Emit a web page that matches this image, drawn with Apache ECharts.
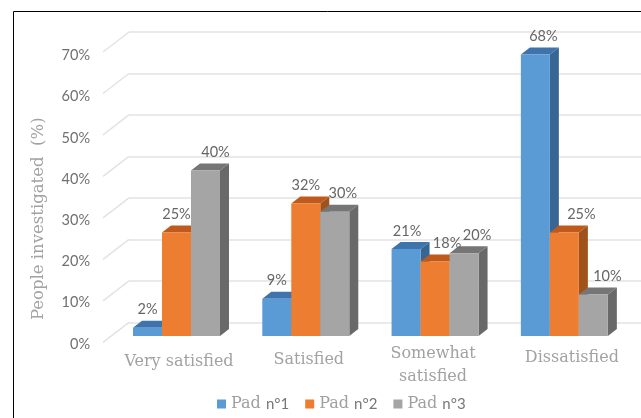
<!DOCTYPE html>
<html>
<head>
<meta charset="utf-8">
<title>Satisfaction by pad</title>
<style>html,body{margin:0;padding:0;background:#fff}#chart{width:641px;height:418px}</style>
<script src="https://cdn.jsdelivr.net/npm/echarts@6/dist/echarts.min.js"></script>
</head>
<body>
<div id="chart"></div>
<script>
// Survey answers, in percent of people asked
const categories = ['Very satisfied', 'Satisfied', 'Somewhat\nsatisfied', 'Dissatisfied'];
const pad1 = [2, 9, 21, 68];
const pad2 = [25, 32, 18, 25];
const pad3 = [40, 30, 20, 10];
const seriesNames = ['Pad n°1', 'Pad n°2', 'Pad n°3'];
const yTicks = [0, 10, 20, 30, 40, 50, 60, 70];

// Horizontal label shifts that keep neighbouring value labels apart
const labelShift1 = [0, 0, 1, 8];
const labelShift2 = [0, 0, 12, 17];
const labelShift3 = [10, 8, 13, 14];
// Offsets of the category captions under their bars
const captionShiftX = [2.5, 3, -2, 7.5];
const captionShiftY = [8, 6, 0, 4];

const palette = [
  { front: '#5B9BD5', top: '#3E74AB', side: '#376594' },
  { front: '#ED7D31', top: '#C05A1C', side: '#A0521B' },
  { front: '#A5A5A5', top: '#767676', side: '#696969' }
];
const depthX = 9, depthY = 7, barW = 29;
const gridColor = '#E3E3E3';
const serif = '"DejaVu Serif", "Liberation Serif", serif';
const sans = 'Lato, "Open Sans", sans-serif';

function barSeries(idx, values, shifts) {
  return {
    type: 'custom',
    name: seriesNames[idx],
    xAxisIndex: 2, yAxisIndex: 2,
    z: 5,
    itemStyle: { color: palette[idx].front },
    data: values.map((v, i) => [i, v]),
    encode: { x: 0, y: 1 },
    renderItem(params, api) {
      const cat = api.value(0), val = api.value(1);
      const topPt = api.coord([cat, val]);
      const base = api.coord([cat, 0]);
      const x = topPt[0] + (idx - 1.5) * barW;
      const c = palette[idx];
      const yT = topPt[1], yB = base[1];
      return {
        type: 'group',
        children: [
          { type: 'polygon', z2: idx * 3 + 1,
            shape: { points: [[x + barW, yT], [x + barW + depthX, yT - depthY], [x + barW + depthX, yB - depthY], [x + barW, yB]] },
            style: { fill: c.side } },
          { type: 'polygon', z2: idx * 3 + 2,
            shape: { points: [[x, yT], [x + depthX, yT - depthY], [x + barW + depthX, yT - depthY], [x + barW, yT]] },
            style: { fill: c.top } },
          { type: 'rect', z2: idx * 3 + 3,
            shape: { x: x, y: yT, width: barW, height: yB - yT },
            style: { fill: c.front } },
          { type: 'text', z2: 100,
            style: {
              x: x + barW / 2 + shifts[cat], y: yT - 18,
              text: val + '%', fill: '#666', font: '14.5px ' + sans,
              align: 'center', verticalAlign: 'middle'
            } }
        ]
      };
    }
  };
}

const chart = echarts.init(document.getElementById('chart'), null, { renderer: 'canvas' });
chart.setOption({
  animation: false,
  backgroundColor: '#fff',
  graphic: [{
    type: 'rect', silent: true, z: 0,
    shape: { x: 13.5, y: 11.5, width: 700, height: 500 },
    style: { fill: 'none', stroke: '#000', lineWidth: 1 }
  }],
  grid: [
    { left: 129, right: 0, top: 32, height: 290.3 },     // back wall
    { left: 103, width: 26, top: 55.5, height: 288.5 },  // carries the tick labels
    { left: 111.85, right: 12, top: 46.2, bottom: 82 }   // bar fronts
  ],
  xAxis: [
    { gridIndex: 0, type: 'value', min: 0, max: 1, show: false },
    { gridIndex: 1, type: 'value', min: 0, max: 1, show: false },
    {
      gridIndex: 2, type: 'category',
      data: categories.map((c, i) => {
        const dx = captionShiftX[i] * 2;
        return {
          value: c,
          textStyle: { padding: [captionShiftY[i], dx < 0 ? -dx : 0, 0, dx > 0 ? dx : 0] }
        };
      }),
      axisLine: { show: false }, axisTick: { show: false },
      axisLabel: {
        interval: 0, margin: 6, color: '#A2A2A2',
        fontFamily: serif, fontSize: 16, lineHeight: 23
      }
    }
  ],
  yAxis: [
    {
      gridIndex: 0, type: 'value', min: 0, max: 70, interval: 10,
      axisLine: { show: false }, axisTick: { show: false }, axisLabel: { show: false },
      splitLine: { show: true, lineStyle: { color: gridColor, width: 1.5 } }
    },
    {
      gridIndex: 1, type: 'value', min: 0, max: 70, interval: 10,
      axisLine: { show: false }, axisTick: { show: false }, splitLine: { show: false },
      axisLabel: { margin: 13, color: '#707070', fontFamily: sans, fontSize: 14.5, formatter: '{value}%' },
      name: 'People investigated  (%)', nameLocation: 'middle', nameRotate: 90, nameGap: 56,
      nameTextStyle: { color: '#A2A2A2', fontFamily: serif, fontSize: 16.5, padding: [0, 38, 0, 0] }
    },
    { gridIndex: 2, type: 'value', min: 0, max: 70, show: false }
  ],
  legend: {
    data: seriesNames,
    left: 212, top: 391,
    icon: 'rect', itemWidth: 9, itemHeight: 9, itemGap: 16,
    formatter(name) {
      const [pad, num] = name.split(' ');
      return '{a|' + pad + ' }{b|' + num + '}';
    },
    textStyle: {
      rich: {
        a: { fontFamily: serif, fontSize: 16, color: '#A0A0A0' },
        b: { fontFamily: sans, fontSize: 15, color: '#777' }
      }
    }
  },
  series: [
    {
      // diagonal wall-to-floor strokes at each tick
      type: 'custom', name: 'floor edges', xAxisIndex: 0, yAxisIndex: 0, z: 1, silent: true,
      data: yTicks.map(t => [0, t]),
      encode: { x: 0, y: 1 },
      renderItem(params, api) {
        const p = api.coord([api.value(0), api.value(1)]);
        return {
          type: 'line',
          shape: { x1: p[0], y1: p[1], x2: p[0] - 26, y2: p[1] + 20 },
          style: { stroke: gridColor, lineWidth: 1.5, fill: 'none' }
        };
      },
      clip: false
    },
    barSeries(0, pad1, labelShift1),
    barSeries(1, pad2, labelShift2),
    barSeries(2, pad3, labelShift3)
  ]
});
</script>
</body>
</html>
